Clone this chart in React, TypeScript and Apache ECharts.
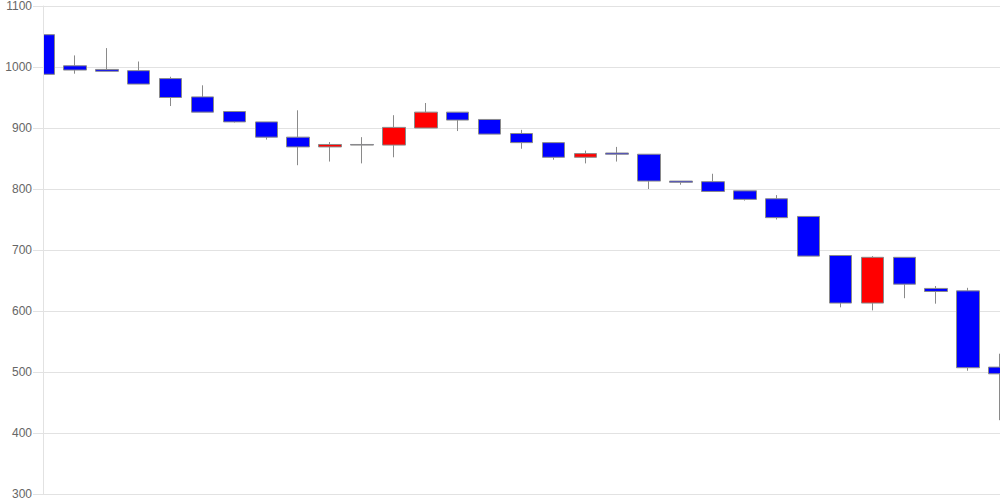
import React, { useEffect, useRef } from "react";
import * as echarts from "echarts";

const categories: string[] = [
  "1", "2", "3", "4", "5", "6", "7", "8", "9", "10",
  "11", "12", "13", "14", "15", "16", "17", "18", "19", "20",
  "21", "22", "23", "24", "25", "26", "27", "28", "29", "30", "31",
];

const openValues: number[] = [
  1053, 1002, 996, 994, 981, 951, 927, 910, 885, 869,
  873, 872, 900, 926, 914, 891, 876, 852, 859, 857,
  813, 812, 797, 784, 755, 691, 613, 688, 637, 633, 508,
];
const closeValues: number[] = [
  988, 995, 993, 972, 950, 926, 910, 885, 869, 873,
  872, 901, 926, 913, 890, 876, 852, 858, 857, 813,
  811, 796, 783, 753, 690, 613, 688, 644, 632, 507, 497,
];
const lowValues: number[] = [
  988, 989, 993, 972, 936, 926, 909, 881, 839, 845,
  842, 852, 900, 895, 890, 866, 848, 842, 845, 800,
  807, 796, 781, 750, 690, 606, 601, 621, 612, 502, 421,
];
const highValues: number[] = [
  1053, 1019, 1031, 1009, 984, 970, 927, 910, 929, 877,
  885, 921, 941, 926, 914, 897, 876, 863, 869, 857,
  813, 825, 797, 790, 755, 691, 690, 688, 641, 638, 530,
];

const yTicks = { min: 300, max: 1100, interval: 100 };

export default function App() {
  const ref = useRef<HTMLDivElement>(null);

  useEffect(() => {
    if (!ref.current) return;
    const chart = echarts.init(ref.current, undefined, { renderer: "svg" });
    const data = categories.map((_, i) => [
      openValues[i],
      closeValues[i],
      lowValues[i],
      highValues[i],
    ]);
    const lineColor = "#e2e2e2";
    chart.setOption({
      animation: false,
      backgroundColor: "#ffffff",
      grid: { left: 43, right: 0, top: 6, bottom: 6, containLabel: false },
      graphic: [
        {
          type: "rect",
          z: 3,
          silent: true,
          shape: { x: 0, y: 0, width: 43, height: 500 },
          style: { fill: "#ffffff" },
        },
      ],
      xAxis: {
        type: "category",
        data: categories,
        boundaryGap: false,
        axisLine: { show: true, lineStyle: { color: lineColor } },
        axisTick: { show: false },
        axisLabel: { show: false },
        splitLine: { show: false },
      },
      yAxis: [
        {
          type: "value",
          min: yTicks.min,
          max: yTicks.max,
          interval: yTicks.interval,
          axisLine: { show: false },
          axisTick: { show: false },
          axisLabel: { show: false },
          splitLine: { show: true, lineStyle: { color: lineColor } },
        },
        {
          type: "value",
          position: "left",
          z: 10,
          min: yTicks.min,
          max: yTicks.max,
          interval: yTicks.interval,
          axisLine: { show: true, lineStyle: { color: lineColor } },
          axisTick: { show: true, length: 10, lineStyle: { color: lineColor } },
          axisLabel: {
            color: "#666666",
            fontSize: 12,
            margin: 11,
            fontFamily: "Arial, 'Liberation Sans', sans-serif",
            formatter: (v: number) => String(v),
          },
          splitLine: { show: false },
        },
      ],
      series: [
        {
          type: "candlestick",
          data,
          yAxisIndex: 0,
          barWidth: 23,
          itemStyle: {
            color: "#ff0000",
            color0: "#0000ff",
            borderColor: "#8a8a8a",
            borderColor0: "#8a8a8a",
            borderWidth: 1,
          },
        },
      ],
    });
    return () => chart.dispose();
  }, []);

  return (
    <div
      ref={ref}
      style={{ position: "fixed", left: 0, top: 0, width: 1000, height: 500 }}
    />
  );
}
